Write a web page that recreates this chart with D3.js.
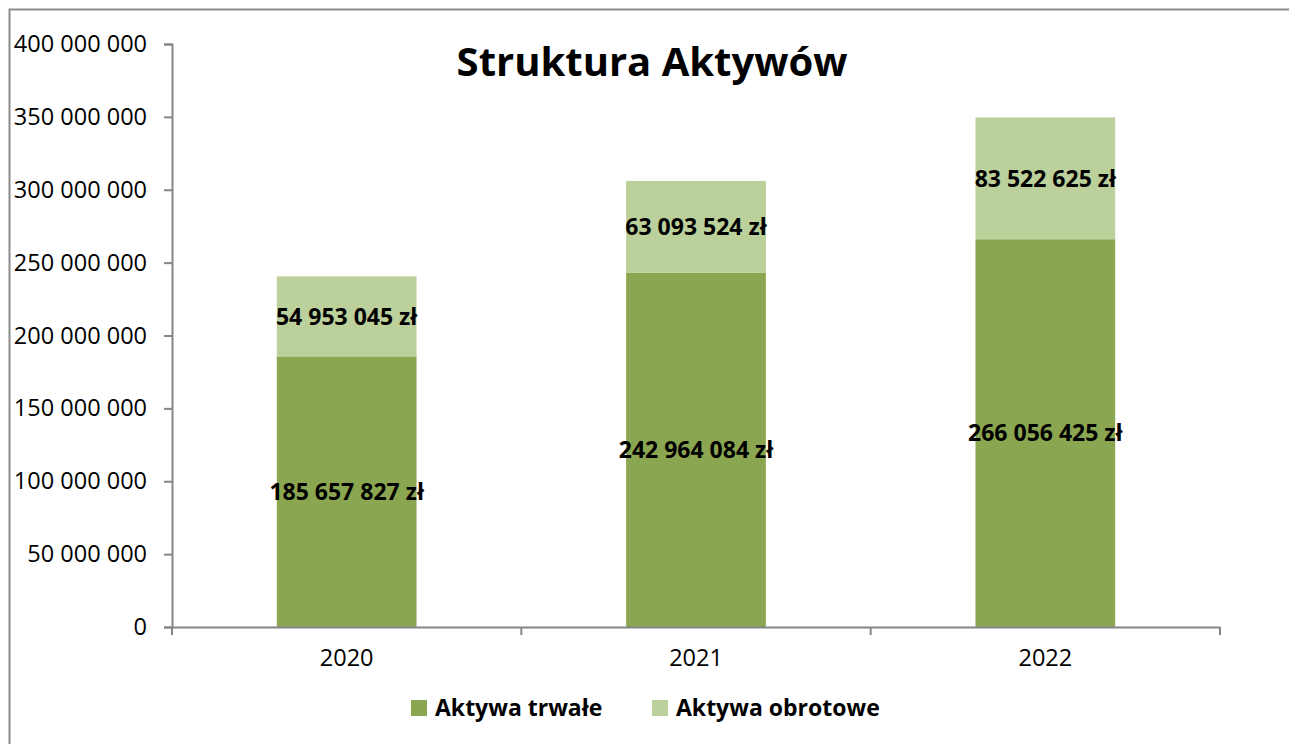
<!DOCTYPE html>
<html>
<head>
<meta charset="utf-8">
<script src="https://cdn.jsdelivr.net/npm/d3@7"></script>
<style>
  body { margin: 0; background: #fff; }
  text { font-family: "Open Sans", sans-serif; }
</style>
</head>
<body>
<div id="chart"></div>
<script>
const years = ["2020", "2021", "2022"];
const trwale = [185657827, 242964084, 266056425];
const obrotowe = [54953045, 63093524, 83522625];
const seriesNames = ["Aktywa trwałe", "Aktywa obrotowe"];
const seriesColors = ["#8ba650", "#bcd09b"];
const yTicks = [0, 50000000, 100000000, 150000000, 200000000, 250000000, 300000000, 350000000, 400000000];

const width = 1289;
const height = 744;
const margin = { top: 44, right: 69, bottom: 117, left: 172 };

const svg = d3.select("#chart")
  .append("svg")
  .attr("width", width)
  .attr("height", height);

// outer frame (cut off at right and bottom in the original)
svg.append("rect")
  .attr("x", 9.5).attr("y", 9.5)
  .attr("width", 1400).attr("height", 900)
  .attr("fill", "none")
  .attr("stroke", "#8c8c8c")
  .attr("stroke-width", 2);

const x = d3.scaleBand()
  .domain(years)
  .range([margin.left, width - margin.right])
  .paddingInner(0.6)
  .paddingOuter(0.3);

const y = d3.scaleLinear()
  .domain([0, 400000000])
  .range([height - margin.bottom, margin.top]);

const fmt = v => d3.format(",")(v).replace(/,/g, " ");

const data = years.map((yr, i) => ({ year: yr, trwale: trwale[i], obrotowe: obrotowe[i] }));
const stack = d3.stack().keys(["trwale", "obrotowe"])(data);

svg.append("g")
  .selectAll("g")
  .data(stack)
  .join("g")
  .attr("fill", (d, i) => seriesColors[i])
  .selectAll("rect")
  .data(d => d)
  .join("rect")
  .attr("x", d => x(d.data.year))
  .attr("y", d => y(d[1]))
  .attr("width", x.bandwidth())
  .attr("height", d => y(d[0]) - y(d[1]));

// data labels
stack.forEach(layer => {
  svg.append("g")
    .selectAll("text")
    .data(layer)
    .join("text")
    .attr("x", d => x(d.data.year) + x.bandwidth() / 2)
    .attr("y", d => (y(d[0]) + y(d[1])) / 2)
    .attr("dy", "0.36em")
    .attr("text-anchor", "middle")
    .attr("font-size", 23)
    .attr("font-weight", "bold")
    .attr("fill", "#000")
    .text(d => fmt(d[1] - d[0]) + " zł");
});

// y axis
const yAxis = svg.append("g")
  .attr("transform", `translate(${margin.left},0)`)
  .call(d3.axisLeft(y).tickValues(yTicks).tickFormat(fmt).tickSize(8).tickPadding(17));
yAxis.selectAll("text").attr("font-size", 23.5).attr("fill", "#000").style("font-family", "Open Sans");

// x axis
const xAxis = svg.append("g")
  .attr("transform", `translate(0,${height - margin.bottom})`)
  .call(d3.axisBottom(x).tickSize(0).tickPadding(22));
xAxis.selectAll("text").attr("font-size", 23.5).attr("fill", "#000").style("font-family", "Open Sans");

const boundaries = d3.range(years.length + 1).map(i => margin.left + i * x.step());
xAxis.selectAll(".sep")
  .data(boundaries)
  .join("line")
  .attr("class", "sep")
  .attr("x1", d => d).attr("x2", d => d)
  .attr("y1", 0).attr("y2", 8)
  .attr("stroke", "#868686")
  .attr("stroke-width", 2);

svg.selectAll(".domain, .tick line").attr("stroke", "#868686").attr("stroke-width", 2);

// title
svg.append("text")
  .attr("x", 652)
  .attr("y", 62)
  .attr("dy", "0.36em")
  .attr("text-anchor", "middle")
  .attr("font-size", 40)
  .attr("font-weight", "bold")
  .text("Struktura Aktywów");

// legend
const legendX = [411, 652];
const legend = svg.append("g")
  .selectAll("g")
  .data(seriesNames)
  .join("g")
  .attr("transform", (d, i) => `translate(${legendX[i]},700)`);
legend.append("rect")
  .attr("width", 16).attr("height", 16)
  .attr("fill", (d, i) => seriesColors[i]);
legend.append("text")
  .attr("x", 24)
  .attr("y", 8)
  .attr("dy", "0.36em")
  .attr("font-size", 23)
  .attr("font-weight", "bold")
  .text(d => d);
</script>
</body>
</html>
